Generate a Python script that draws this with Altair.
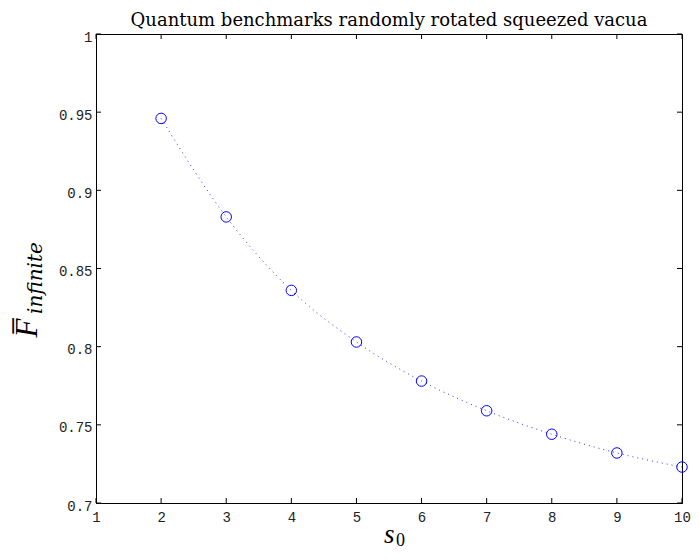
import altair as alt
import pandas as pd

# Data
s0 = [2, 3, 4, 5, 6, 7, 8, 9, 10]
f_infinite = [0.946, 0.883, 0.836, 0.803, 0.778, 0.759, 0.744, 0.732, 0.723]
x_ticks = [1, 2, 3, 4, 5, 6, 7, 8, 9, 10]
y_ticks = [0.7, 0.75, 0.8, 0.85, 0.9, 0.95, 1.0]
title_text = "Quantum benchmarks randomly rotated squeezed vacua"

W, H = 586, 469
BLUE = "#0000ff"

df = pd.DataFrame({"s0": s0, "F": f_infinite})
xt = pd.DataFrame({"s0": x_ticks})
yt = pd.DataFrame({"F": y_ticks})

xs = alt.Scale(domain=[1, 10], nice=False, zero=False)
ys = alt.Scale(domain=[0.7, 1.0], nice=False, zero=False)

x_axis = alt.Axis(values=x_ticks, title=None, ticks=False, grid=False,
                  labelFlush=False, labelPadding=7, labelExpr="'' + datum.value")
y_axis = alt.Axis(values=y_ticks, title=None, ticks=False, grid=False,
                  labelFlush=False, labelPadding=4, labelExpr="'' + datum.value", labelOffset=3)

X = alt.X("s0:Q", scale=xs, axis=x_axis)
Y = alt.Y("F:Q", scale=ys, axis=y_axis)

line = alt.Chart(df).mark_line(
    color=BLUE, strokeDash=[1, 4], strokeWidth=1, interpolate="monotone", opacity=0.8
).encode(x=X, y=Y)

points = alt.Chart(df).mark_point(
    shape="circle", filled=False, color=BLUE, size=110, strokeWidth=1, opacity=1
).encode(x=X, y=Y)

tick_len = 5
xb = alt.Chart(xt).mark_rule(color="black", strokeWidth=1).encode(
    x=X, y=alt.value(H), y2=alt.value(H - tick_len))
xtop = alt.Chart(xt).mark_rule(color="black", strokeWidth=1).encode(
    x=X, y=alt.value(0), y2=alt.value(tick_len))
yl = alt.Chart(yt).mark_rule(color="black", strokeWidth=1).encode(
    y=Y, x=alt.value(0), x2=alt.value(tick_len))
yr = alt.Chart(yt).mark_rule(color="black", strokeWidth=1).encode(
    y=Y, x=alt.value(W - tick_len), x2=alt.value(W))

# Axis titles (math-style)
s_lbl = alt.Chart(pd.DataFrame({"t": ["s"]})).mark_text(
    font="Liberation Serif", fontStyle="italic", fontSize=27, align="left", baseline="alphabetic", color="black"
).encode(text="t:N", x=alt.value(288), y=alt.value(509))
s_sub = alt.Chart(pd.DataFrame({"t": ["0"]})).mark_text(
    font="Liberation Serif", fontSize=18, align="left", baseline="alphabetic", color="black"
).encode(text="t:N", x=alt.value(300), y=alt.value(512))

f_lbl = alt.Chart(pd.DataFrame({"t": ["F\u0305"]})).mark_text(
    font="Liberation Serif", fontStyle="italic", fontSize=31, align="center", baseline="alphabetic",
    angle=270, color="black"
).encode(text="t:N", x=alt.value(-59), y=alt.value(294))
f_sub = alt.Chart(pd.DataFrame({"t": ["infinite"]})).mark_text(
    font="DejaVu Serif", fontStyle="italic", fontSize=20, align="center", baseline="alphabetic",
    angle=270, color="black"
).encode(text="t:N", x=alt.value(-54), y=alt.value(244))

chart = alt.layer(line, points, xb, xtop, yl, yr, s_lbl, s_sub, f_lbl, f_sub).properties(
    width=W, height=H,
    title=alt.TitleParams(text=title_text, font="DejaVu Serif", fontSize=18, fontWeight="normal",
                          color="black", anchor="middle", offset=0),
    autosize=alt.AutoSizeParams(type="none"),
    padding={"left": 88, "top": 26, "right": 9, "bottom": 49},
).configure_view(
    stroke="black", strokeWidth=1
).configure_axis(
    domainColor="black", domainWidth=1, labelColor="#222222", labelFont="Liberation Mono",
    labelFontSize=14
)

chart.save("out.html", embed_options={"renderer": "svg", "actions": False})
